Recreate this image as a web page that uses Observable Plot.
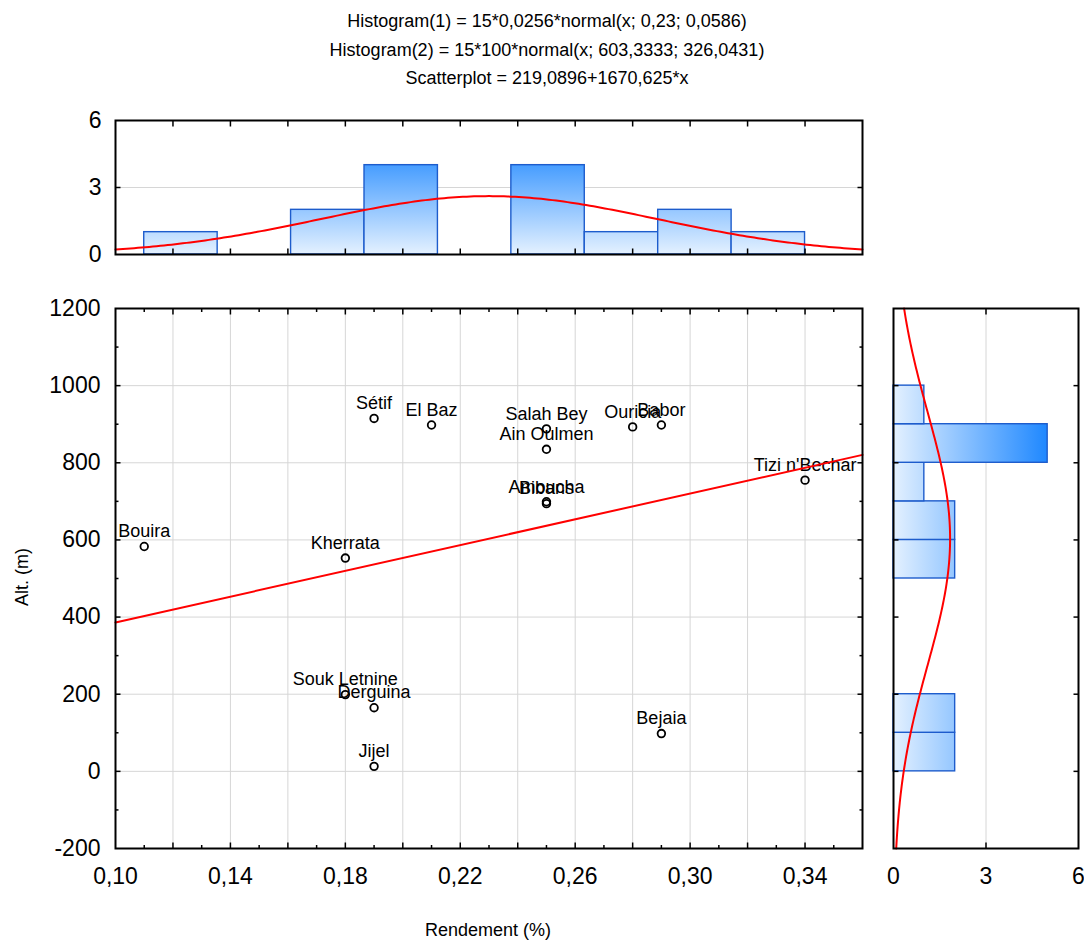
<!DOCTYPE html>
<html>
<head>
<meta charset="utf-8">
<script src="https://cdn.jsdelivr.net/npm/d3@7"></script>
<script src="https://cdn.jsdelivr.net/npm/@observablehq/plot@0.6"></script>
<style>
  html, body { margin: 0; padding: 0; background: #fff; overflow: hidden; }
  #chart { position: relative; width: 1084px; height: 942px; font-family: "Liberation Sans", Arial, sans-serif; }
  #chart svg { position: absolute; left: 0; top: 0; }
  .title { position: absolute; left: 0; width: 1094px; text-align: center; font-size: 18px; line-height: 18px; color: #000; white-space: nowrap; }
</style>
</head>
<body>
<div id="chart">
  <div class="title" style="top:12px">Histogram(1) = 15*0,0256*normal(x; 0,23; 0,0586)</div>
  <div class="title" style="top:41px">Histogram(2) = 15*100*normal(x; 603,3333; 326,0431)</div>
  <div class="title" style="top:69px">Scatterplot = 219,0896+1670,625*x</div>
</div>
<script>
// Stations: yield (%) against altitude (m)
const stations = ["Bouira", "Sétif", "El Baz", "Salah Bey", "Ain Oulmen", "Ouricia", "Babor", "Tizi n'Bechar",
                  "Amoucha", "Bibans", "Kherrata", "Souk Letnine", "Derguina", "Jijel", "Bejaia"];
const rendement = [0.11, 0.19, 0.21, 0.25, 0.25, 0.28, 0.29, 0.34, 0.25, 0.25, 0.18, 0.18, 0.19, 0.19, 0.29];
const altitude  = [583, 915, 898, 888, 835, 893, 898, 755, 699, 694, 553, 199, 165, 13, 98];

// Fitted models as stated in the header
const fitX = {n: 15, width: 0.0256, mean: 0.23, sd: 0.0586};
const fitY = {n: 15, width: 100, mean: 603.3333, sd: 326.0431};
const regression = {intercept: 219.0896, slope: 1670.625};

// Axis settings
const xDomain = [0.10, 0.36];
const yDomain = [-200, 1200];
const countDomain = [0, 6];
const xTickLabels = [0.10, 0.14, 0.18, 0.22, 0.26, 0.30, 0.34];
const yTickLabels = [-200, 0, 200, 400, 600, 800, 1000, 1200];
const countTickLabels = [0, 3, 6];

const W = 1084, H = 942;
const FONT = "Liberation Sans, Arial, sans-serif";
const frameBox = {left: 115, right: 862, top: 308, bottom: 848};
const topBox = {top: 120, bottom: 254};
const sideBox = {left: 893, right: 1078};

const points = stations.map((name, i) => ({name, x: rendement[i], y: altitude[i]}));
const fmtComma = d => d.toFixed(2).replace(".", ",");
const steps = (a, b, s) => d3.range(Math.round((b - a) / s) + 1).map(k => +(a + k * s).toFixed(6));

// Histogram bins: 9 equal classes over the yield range, 100 m classes over altitude
const xMin = d3.min(rendement), xMax = d3.max(rendement);
const xEdges = d3.range(1, 9).map(k => xMin + k * (xMax - xMin) / 9);
const xBins = d3.bin().domain([xMin, xMax]).thresholds(xEdges)(rendement)
  .filter(b => b.length > 0).map(b => ({x0: b.x0, x1: b.x1, count: b.length}));
const yBins = d3.bin().domain([0, 1000]).thresholds(d3.range(100, 1000, 100))(altitude)
  .filter(b => b.length > 0).map(b => ({y0: b.x0, y1: b.x1, count: b.length}));

// Normal curves scaled to counts, and the regression line
const normal = (v, m, s) => Math.exp(-0.5 * ((v - m) / s) ** 2) / (s * Math.sqrt(2 * Math.PI));
const curveX = d3.range(0, 201).map(k => {
  const x = xDomain[0] + k * (xDomain[1] - xDomain[0]) / 200;
  return {x, y: fitX.n * fitX.width * normal(x, fitX.mean, fitX.sd)};
});
const curveY = d3.range(0, 201).map(k => {
  const y = yDomain[0] + k * (yDomain[1] - yDomain[0]) / 200;
  return {y, x: fitY.n * fitY.width * normal(y, fitY.mean, fitY.sd)};
});
const regLine = xDomain.map(x => ({x, y: regression.intercept + regression.slope * x}));

const baseStyle = {background: "transparent", overflow: "visible", fontFamily: FONT, color: "black"};
const gridStyle = {stroke: "#d6d6d6", strokeOpacity: 1, strokeWidth: 1};
const tickLabel = {fontSize: 23, label: null, tickSize: 0};
const ticksOnly = (axis, values, anchor, size) =>
  axis(values, {anchor, tickSize: -size, fill: "none", label: null, strokeWidth: 1.5});

// Scatterplot
const mainPlot = Plot.plot({
  width: W, height: H,
  marginLeft: frameBox.left, marginRight: W - frameBox.right,
  marginTop: frameBox.top, marginBottom: H - frameBox.bottom,
  x: {domain: xDomain}, y: {domain: yDomain},
  style: baseStyle,
  marks: [
    Plot.gridX(steps(0.12, 0.34, 0.02), gridStyle),
    Plot.gridY(yTickLabels.slice(1, -1), gridStyle),
    Plot.dot(points, {x: "x", y: "y", r: 3.8, stroke: "black", strokeWidth: 1.8, fill: "none"}),
    Plot.text(points, {x: "x", y: "y", text: "name", dy: -15, fontSize: 18, fill: "black"}),
    Plot.line(regLine, {x: "x", y: "y", stroke: "#ff0000", strokeWidth: 2}),
    Plot.axisX(xTickLabels, {...tickLabel, anchor: "bottom", tickPadding: 19, tickFormat: fmtComma}),
    Plot.axisY(yTickLabels, {...tickLabel, anchor: "left", tickPadding: 15, tickFormat: d => String(d)}),
    ticksOnly(Plot.axisX, steps(0.11, 0.35, 0.02), "bottom", 3),
    ticksOnly(Plot.axisX, steps(0.12, 0.34, 0.02), "bottom", 5.5),
    ticksOnly(Plot.axisX, steps(0.11, 0.35, 0.02), "top", 3),
    ticksOnly(Plot.axisX, steps(0.12, 0.34, 0.02), "top", 5.5),
    ticksOnly(Plot.axisY, steps(-100, 1100, 200), "left", 3.5),
    ticksOnly(Plot.axisY, steps(0, 1000, 200), "left", 5.5),
    ticksOnly(Plot.axisY, steps(-100, 1100, 200), "right", 3.5),
    ticksOnly(Plot.axisY, steps(0, 1000, 200), "right", 5.5),
    Plot.frame({stroke: "black", strokeWidth: 2})
  ]
});

// Histogram of yield, above the scatterplot
const topHist = Plot.plot({
  width: W, height: H,
  marginLeft: frameBox.left, marginRight: W - frameBox.right,
  marginTop: topBox.top, marginBottom: H - topBox.bottom,
  x: {domain: xDomain}, y: {domain: countDomain},
  style: baseStyle,
  marks: [
    Plot.gridY([3], gridStyle),
    Plot.rect(xBins, {x1: "x0", x2: "x1", y1: 0, y2: "count", fill: "url(#gradTop)", stroke: "#1d5ccc", strokeWidth: 1.4}),
    Plot.line(curveX, {x: "x", y: "y", stroke: "#ff0000", strokeWidth: 2}),
    Plot.axisY(countTickLabels, {...tickLabel, anchor: "left", tickPadding: 14}),
    ticksOnly(Plot.axisX, steps(0.12, 0.34, 0.02), "bottom", 5.5),
    ticksOnly(Plot.axisX, steps(0.12, 0.34, 0.02), "top", 5.5),
    ticksOnly(Plot.axisY, [3], "left", 5.5),
    ticksOnly(Plot.axisY, [3], "right", 5.5),
    Plot.frame({stroke: "black", strokeWidth: 2})
  ]
});

// Histogram of altitude, to the right of the scatterplot
const sideHist = Plot.plot({
  width: W, height: H,
  marginLeft: sideBox.left, marginRight: W - sideBox.right,
  marginTop: frameBox.top, marginBottom: H - frameBox.bottom,
  x: {domain: countDomain}, y: {domain: yDomain},
  style: baseStyle,
  marks: [
    Plot.gridX([3], gridStyle),
    Plot.rect(yBins, {x1: 0, x2: "count", y1: "y0", y2: "y1", fill: "url(#gradSide)", stroke: "#1d5ccc", strokeWidth: 1.4}),
    Plot.line(curveY, {x: "x", y: "y", stroke: "#ff0000", strokeWidth: 2}),
    Plot.axisX(countTickLabels, {...tickLabel, anchor: "bottom", tickPadding: 19}),
    ticksOnly(Plot.axisX, [3], "bottom", 5.5),
    ticksOnly(Plot.axisX, [3], "top", 5.5),
    ticksOnly(Plot.axisY, steps(0, 1000, 200), "left", 5.5),
    ticksOnly(Plot.axisY, steps(0, 1000, 200), "right", 5.5),
    Plot.frame({stroke: "black", strokeWidth: 2})
  ]
});

// Blue gradients, anchored on the count scale
function addGradient(svg, id, scaleName, horizontal) {
  const s = svg.scale(scaleName);
  const a = s.apply(0), b = s.apply(5);
  const g = d3.select(svg).insert("defs", ":first-child")
    .append("linearGradient").attr("id", id).attr("gradientUnits", "userSpaceOnUse")
    .attr("x1", horizontal ? a : 0).attr("x2", horizontal ? b : 0)
    .attr("y1", horizontal ? 0 : a).attr("y2", horizontal ? 0 : b);
  g.append("stop").attr("offset", 0).attr("stop-color", "#e4f1ff");
  g.append("stop").attr("offset", 1).attr("stop-color", "#1f88ff");
}
addGradient(topHist, "gradTop", "y", false);
addGradient(sideHist, "gradSide", "x", true);

// Axis titles
const ms = d3.select(mainPlot);
ms.append("text").attr("x", 488).attr("y", 936).attr("text-anchor", "middle")
  .attr("font-size", 18).attr("font-family", FONT).text("Rendement (%)");
ms.append("text").attr("transform", "translate(28,577) rotate(-90)").attr("text-anchor", "middle")
  .attr("font-size", 18).attr("font-family", FONT).text("Alt. (m)");

document.getElementById("chart").append(topHist, sideHist, mainPlot);
</script>
</body>
</html>
